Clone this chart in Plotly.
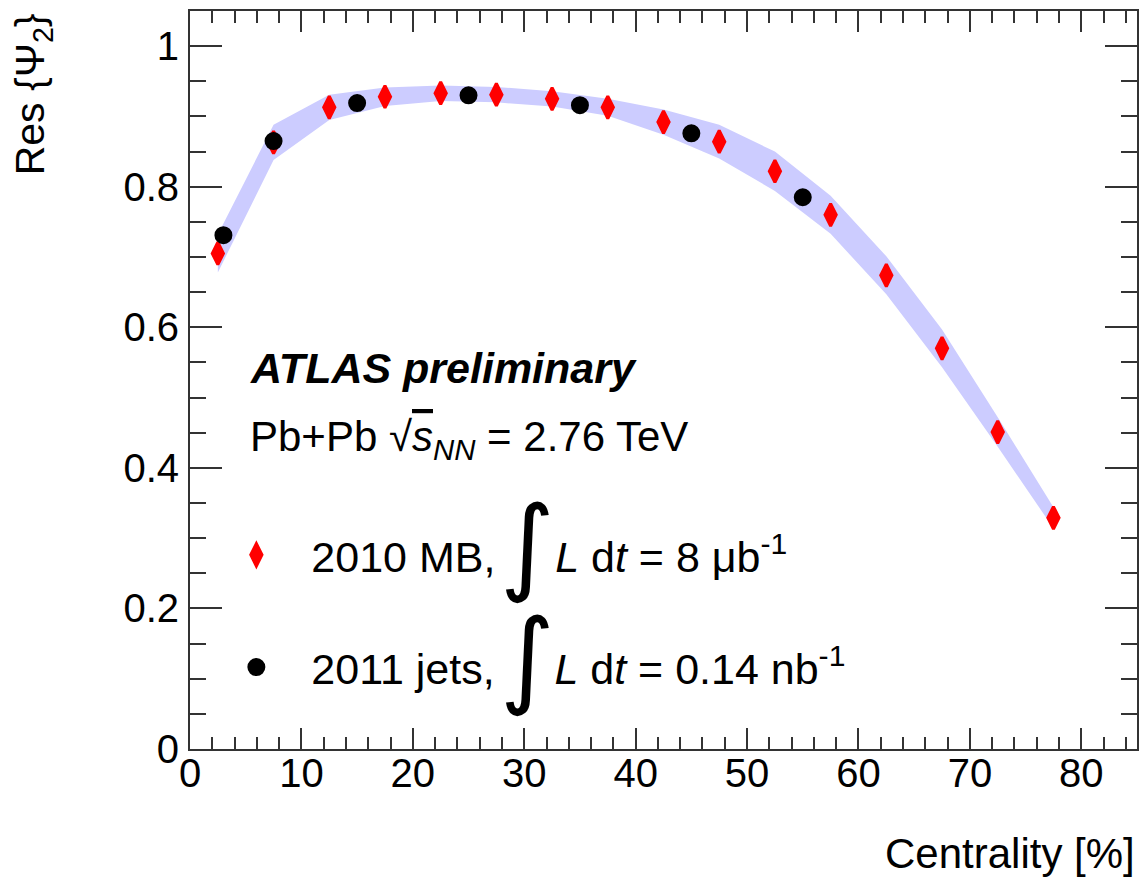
import plotly.graph_objects as go
import numpy as np

# 2010 minimum-bias, bins of 5% centrality
cent_mb = [2.5, 7.5, 12.5, 17.5, 22.5, 27.5, 32.5, 37.5, 42.5, 47.5,
           52.5, 57.5, 62.5, 67.5, 72.5, 77.5]
res_mb = [0.705, 0.863, 0.913, 0.928, 0.933, 0.931, 0.925, 0.913, 0.892, 0.864,
          0.822, 0.760, 0.674, 0.570, 0.451, 0.329]
# systematic band half-width
sys_mb = [0.027, 0.025, 0.018, 0.013, 0.011, 0.011, 0.011, 0.012, 0.018, 0.024,
          0.028, 0.027, 0.027, 0.027, 0.021, 0.015]

# 2011 jet-triggered sample
cent_jet = [3.0, 7.5, 15, 25, 35, 45, 55]
res_jet = [0.731, 0.865, 0.919, 0.930, 0.916, 0.876, 0.785]

FONT = "Liberation Sans, Arial, Helvetica, sans-serif"
GAP = "&#160;" * 5   # room for the big integral sign

up = np.array(res_mb) + np.array(sys_mb)
lo = np.array(res_mb) - np.array(sys_mb)

fig = go.Figure()

fig.add_trace(go.Scatter(
    x=cent_mb + cent_mb[::-1], y=list(up) + list(lo[::-1]),
    fill="toself", fillcolor="#ccccff", line=dict(width=0),
    mode="lines", hoverinfo="skip", showlegend=False))

fig.add_trace(go.Scatter(
    x=cent_mb, y=res_mb, mode="markers",
    name="2010 MB," + GAP + "<i>L</i> d<i>t</i> = 8 μb<sup>-1</sup>",
    marker=dict(symbol="diamond-tall", size=16, color="red",
                line=dict(color="red", width=3)),
    legend="legend"))

fig.add_trace(go.Scatter(
    x=cent_jet, y=res_jet, mode="markers",
    name="2011 jets," + GAP + "<i>L</i> d<i>t</i> = 0.14 nb<sup>-1</sup>",
    marker=dict(symbol="circle", size=15, color="black",
                line=dict(color="black", width=3)),
    legend="legend2"))

leg = dict(xanchor="left", yanchor="middle", bgcolor="rgba(0,0,0,0)",
           font=dict(family=FONT, size=43, color="black"), itemwidth=100)

integral = dict(text="∫", xref="paper", yref="paper", xanchor="center",
                yanchor="middle", showarrow=False,
                font=dict(family="DejaVu Sans", size=105, color="black"))

fig.update_layout(
    width=1143, height=878,
    margin=dict(l=190, r=4, t=11, b=129),
    paper_bgcolor="white", plot_bgcolor="white",
    font=dict(family=FONT, size=40, color="black"),
    legend=dict(leg, x=0.012, y=0.263),
    legend2=dict(leg, x=0.012, y=0.111),
    xaxis=dict(range=[0, 85], dtick=10, tick0=0, ticks="inside", ticklen=21,
               tickwidth=2, tickcolor="#333", showline=True, linewidth=2,
               linecolor="#333", mirror="ticks", showgrid=False, zeroline=False,
               ticklabelstandoff=-12,
               minor=dict(dtick=2, ticks="inside", ticklen=12, tickwidth=2,
                          tickcolor="#333", showgrid=False)),
    yaxis=dict(range=[0, 1.05], dtick=0.2, tick0=0, ticks="inside", ticklen=32,
               tickwidth=2, tickcolor="#333", showline=True, linewidth=2,
               linecolor="#333", mirror="ticks", showgrid=False, zeroline=False,
               ticklabelstandoff=1,
               minor=dict(dtick=0.05, ticks="inside", ticklen=16, tickwidth=2,
                          tickcolor="#333", showgrid=False)),
    annotations=[
        dict(text="<b><i>ATLAS preliminary</i></b>", xref="paper", yref="paper",
             x=0.061, y=0.516, xanchor="left", yanchor="middle", showarrow=False,
             font=dict(size=43)),
        dict(text="Pb+Pb √<span style='text-decoration:overline'><i>s</i></span><sub><i>NN</i></sub> = 2.76 TeV",
             xref="paper", yref="paper", x=0.061, y=0.42, xanchor="left",
             yanchor="middle", showarrow=False, font=dict(size=42)),
        dict(integral, x=0.356, y=0.2764),
        dict(integral, x=0.356, y=0.1233),
        dict(text="Centrality [%]", xref="paper", yref="paper", x=1.0, y=-0.141,
             xanchor="right", yanchor="middle", showarrow=False, font=dict(size=42)),
        dict(text="Res {Ψ<sub>2</sub>}", xref="paper", yref="paper", x=-0.1654, y=1.0,
             xanchor="center", yanchor="top", textangle=-90, showarrow=False,
             font=dict(size=41)),
    ],
)

fig.write_html("out.html", config={"displayModeBar": False},
               post_script="document.body.style.margin='0';")
